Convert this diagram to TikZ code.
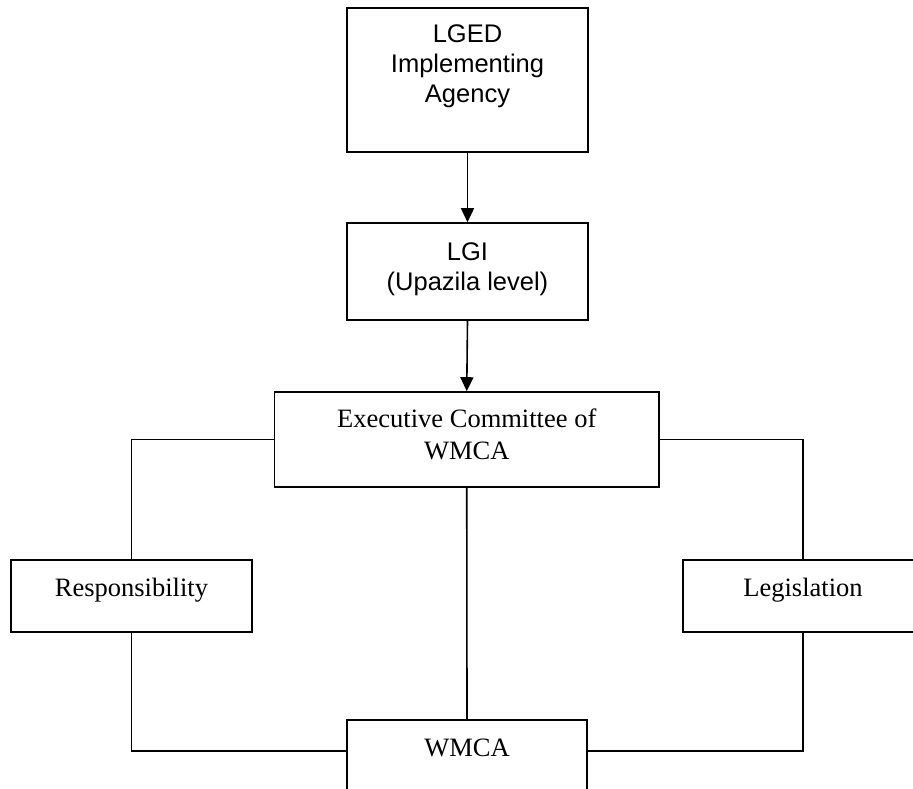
\documentclass[tikz,border=0pt]{standalone}
\usepackage{fontspec}
\setmainfont{Liberation Serif}
\newfontfamily\arialfont{Liberation Sans}
\usetikzlibrary{arrows.meta,calc}
\begin{document}
\begin{tikzpicture}[x=1pt,y=-1pt,
  box/.style={draw,line width=1.6pt,rectangle,inner sep=0pt},
  conn/.style={line width=1.6pt},
  arr/.style={conn,-{Triangle[length=14pt,width=13pt]}},
  sanstext/.style={anchor=base,align=center,inner sep=0pt,font=\arialfont\fontsize{25.5}{30}\selectfont},
  seriftext/.style={anchor=base,align=center,inner sep=0pt,font=\fontsize{26.5}{32}\selectfont}]
\useasboundingbox (0,0) rectangle (913,789);
\clip (0,0) rectangle (913,789);
\fill[white] (0,0) rectangle (913,789);
% boxes
\node[box,minimum width=241pt,minimum height=144pt] (lged) at (467.5,80) {};
\node[box,minimum width=241pt,minimum height=97pt] (lgi) at (467.5,271.5) {};
\node[box,minimum width=384.5pt,minimum height=95pt] (exec) at (466.75,439.5) {};
\node[box,minimum width=241pt,minimum height=72pt] (resp) at (131.5,596) {};
\node[box,minimum width=240pt,minimum height=72pt] (leg) at (803,596) {};
\node[box,minimum width=240pt,minimum height=100pt] (wmca) at (467,770) {};
% texts (base = baseline of last line)
\node[sanstext] (lgedt) at (467.5,103) {LGED\\Implementing\\Agency};
\node[sanstext] (lgit) at (467.5,290) {LGI\\(Upazila level)};
\node[seriftext] (exect) at (466.75,459) {Executive Committee of\\WMCA};
\node[seriftext] (respt) at (131.5,596) {Responsibility};
\node[seriftext] (legt) at (803,596) {Legislation};
\node[seriftext] (wmcat) at (467,756) {WMCA};
% connectors
\coordinate (wmcaL) at ($(wmca.north west)+(0,32)$);
\coordinate (wmcaR) at ($(wmca.north east)+(0,32)$);
\draw[arr] (lged.south) -- (lgi.north);
\draw[arr] (lgi.south) -- (exec.north);
\draw[conn] (exec.west) -| (resp.north);
\draw[conn] (exec.east) -| (leg.north);
\draw[conn] (exec.south) -- (wmca.north);
\draw[conn] (resp.south) |- (wmcaL);
\draw[conn] (leg.south) |- (wmcaR);
\end{tikzpicture}
\end{document}
